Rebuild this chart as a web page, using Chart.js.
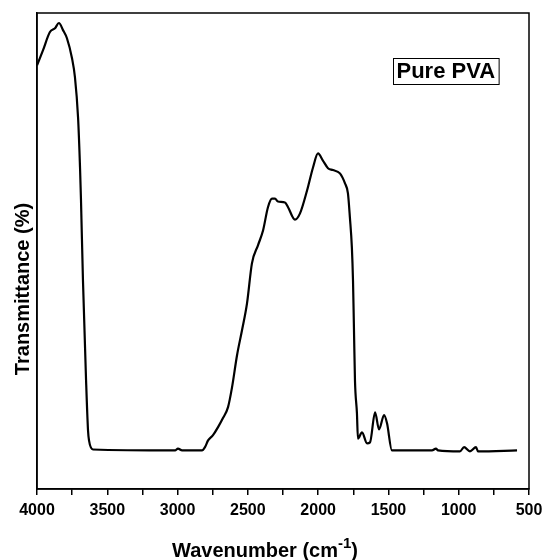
<!DOCTYPE html>
<html>
<head>
<meta charset="utf-8">
<script src="https://cdn.jsdelivr.net/npm/chart.js@4.4.1/dist/chart.umd.min.js"></script>
<style>
  html, body { margin: 0; padding: 0; background: #fff; }
  #wrap { width: 544px; height: 560px; }
</style>
</head>
<body>
<div id="wrap"><canvas id="ftirChart" width="544" height="560"></canvas></div>
<script>
// wavenumber (cm-1) and transmittance
const wavenumbers = [4000, 3957, 3908, 3872, 3844, 3815, 3787, 3751, 3730, 3708, 3694, 3687, 3673, 3651, 3637, 3630, 3602,
  3018, 2997, 2968, 2826, 2805, 2783, 2748, 2712, 2677, 2641, 2613, 2577, 2542, 2506, 2471, 2428, 2392, 2357, 2328, 2307,
  2286, 2236, 2214, 2165, 2129, 2079, 2037, 2001, 1966, 1930, 1895, 1845, 1809, 1788, 1774, 1760, 1752, 1745, 1738, 1724,
  1717, 1688, 1652, 1631, 1595, 1567, 1531, 1510, 1475, 1190, 1162, 1147, 991, 962, 920, 877, 863, 585];
const transmittance = [89.0, 92.2, 96.0, 96.8, 97.9, 96.4, 94.7, 90.5, 86.5, 78.1, 67.6, 60.6, 43.8, 22.9, 12.3, 10.2, 8.3,
  8.1, 8.5, 8.1, 8.1, 8.8, 10.2, 11.3, 13.0, 14.9, 17.2, 21.3, 28.1, 33.3, 39.0, 47.4, 51.2, 54.3, 59.2, 61.0, 61.0,
  60.4, 60.2, 59.2, 56.6, 57.9, 62.7, 67.5, 70.5, 69.0, 67.4, 67.0, 66.3, 64.2, 62.1, 57.0, 50.7, 43.8, 33.3, 22.8, 15.9,
  10.6, 11.9, 9.6, 9.8, 16.1, 12.5, 15.5, 13.8, 8.1, 8.1, 8.5, 8.1, 7.9, 8.8, 7.9, 8.8, 7.9, 8.1];
const xTicks = [4000, 3500, 3000, 2500, 2000, 1500, 1000, 500];
const seriesName = "Pure PVA";

const points = wavenumbers.map((w, i) => ({ x: w, y: transmittance[i] }));

const fontFamily = "'Liberation Sans', Arial, sans-serif";

const decorations = {
  id: "decorations",
  afterDraw(chart) {
    const ctx = chart.ctx;
    const a = chart.chartArea;
    ctx.save();
    // frame
    ctx.strokeStyle = "#000";
    ctx.lineWidth = 1.5;
    ctx.strokeRect(a.left, a.top, a.right - a.left, a.bottom - a.top);

    // legend box
    ctx.font = "bold 22px " + fontFamily;
    const tw = ctx.measureText(seriesName).width;
    const bx = 393, by = 58, bw = tw + 7, bh = 26;
    ctx.lineWidth = 1;
    ctx.strokeRect(bx + 0.5, by + 0.5, bw, bh);
    ctx.fillStyle = "#000";
    ctx.textBaseline = "middle";
    ctx.textAlign = "left";
    ctx.fillText(seriesName, bx + 3.5, by + bh / 2 + 1);

    // x title with superscript
    ctx.font = "bold 20px " + fontFamily;
    const main = "Wavenumber (cm";
    const sup = "-1";
    const close = ")";
    const mw = ctx.measureText(main).width;
    const cw = ctx.measureText(close).width;
    ctx.font = "bold 15px " + fontFamily;
    const sw = ctx.measureText(sup).width;
    const total = mw + sw + cw;
    let x = 265 - total / 2;
    const y = 557;
    ctx.textBaseline = "alphabetic";
    ctx.font = "bold 20px " + fontFamily;
    ctx.fillText(main, x, y);
    x += mw;
    ctx.font = "bold 15px " + fontFamily;
    ctx.fillText(sup, x, y - 9);
    x += sw;
    ctx.font = "bold 20px " + fontFamily;
    ctx.fillText(close, x, y);

    // y title
    ctx.translate(23, 289);
    ctx.rotate(-Math.PI / 2);
    ctx.textAlign = "center";
    ctx.textBaseline = "middle";
    ctx.font = "bold 20px " + fontFamily;
    ctx.fillText("Transmittance (%)", 0, 0);
    ctx.restore();
  }
};

new Chart(document.getElementById("ftirChart"), {
  type: "line",
  data: {
    datasets: [{
      label: seriesName,
      data: points,
      borderColor: "#000",
      borderWidth: 2.2,
      pointRadius: 0,
      cubicInterpolationMode: "monotone",
      fill: false
    }]
  },
  options: {
    responsive: false,
    animation: false,
    layout: { padding: { top: 13, right: 15, left: 0, bottom: 0 } },
    plugins: {
      legend: { display: false },
      tooltip: { enabled: false }
    },
    scales: {
      x: {
        type: "linear",
        reverse: true,
        min: 500,
        max: 4000,
        afterBuildTicks(scale) {
          const t = [];
          for (let v = 4000; v >= 500; v -= 250) t.push({ value: v });
          scale.ticks = t;
        },
        afterFit(scale) {
          scale.height = 71;
          scale.paddingLeft = 0;
          scale.paddingRight = 0;
        },
        ticks: {
          color: "#000",
          padding: 6,
          maxRotation: 0,
          autoSkip: false,
          font: { family: fontFamily, size: 16, weight: "bold" },
          callback: (v) => xTicks.includes(v) ? String(v) : ""
        },
        grid: { drawOnChartArea: false, drawTicks: true, tickLength: 6, color: "#000", lineWidth: 1.5 },
        border: { display: true, color: "#000", width: 1.5 }
      },
      y: {
        min: 0,
        max: 100,
        afterFit(scale) { scale.width = 37; },
        ticks: { display: false },
        grid: { display: false, drawTicks: false },
        border: { display: true, color: "#000", width: 1.5 }
      }
    }
  },
  plugins: [decorations]
});
</script>
</body>
</html>
